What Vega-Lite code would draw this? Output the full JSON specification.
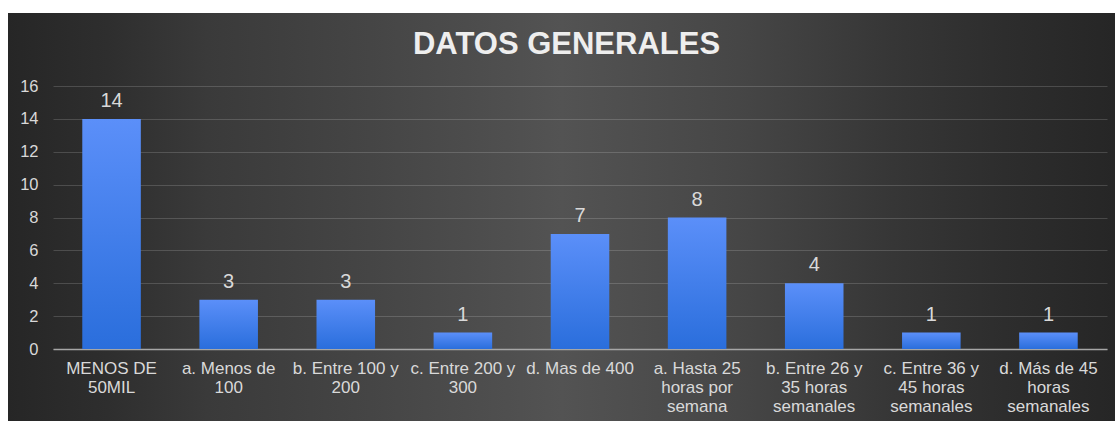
{
  "$schema": "https://vega.github.io/schema/vega-lite/v6.json",
  "width": 1107,
  "height": 408,
  "autosize": {"type": "none"},
  "padding": {"left": 8, "top": 13, "right": 0, "bottom": 0},
  "background": "#ffffff",
  "title": {
    "text": "DATOS GENERALES",
    "anchor": "middle",
    "frame": "group",
    "orient": "top",
    "offset": -48,
    "dx": 5,
    "font": "Liberation Sans",
    "fontSize": 31,
    "fontWeight": "bold",
    "color": "#eeeeee"
  },
  "view": {
    "stroke": null,
    "fill": {
      "gradient": "linear",
      "x1": 0, "y1": 0, "x2": 1, "y2": 0,
      "stops": [
        {"offset": 0, "color": "#262626"},
        {"offset": 0.09, "color": "#2e2e2e"},
        {"offset": 0.18, "color": "#3a3a3a"},
        {"offset": 0.34, "color": "#464646"},
        {"offset": 0.5, "color": "#535353"},
        {"offset": 0.66, "color": "#464646"},
        {"offset": 0.8, "color": "#363636"},
        {"offset": 0.9, "color": "#2d2d2d"},
        {"offset": 1, "color": "#262626"}
      ]
    }
  },
  "data": {
    "values": [
      {"cat": "MENOS DE|50MIL", "v": 14},
      {"cat": "a. Menos de|100", "v": 3},
      {"cat": "b. Entre 100 y|200", "v": 3},
      {"cat": "c. Entre 200 y|300", "v": 1},
      {"cat": "d. Mas de 400", "v": 7},
      {"cat": "a. Hasta 25|horas por|semana", "v": 8},
      {"cat": "b. Entre 26 y|35 horas|semanales", "v": 4},
      {"cat": "c. Entre 36 y|45 horas|semanales", "v": 1},
      {"cat": "d. Más de 45|horas|semanales", "v": 1}
    ]
  },
  "encoding": {
    "x": {
      "field": "cat",
      "type": "nominal",
      "sort": null,
      "scale": {"range": [45, 1099], "paddingInner": 0.5, "paddingOuter": 0.25},
      "axis": {
        "orient": "bottom",
        "offset": -72,
        "title": null,
        "labelExpr": "split(datum.label, '|')",
        "labelAngle": 0,
        "labelPadding": 11,
        "labelLineHeight": 19,
        "labelFont": "Liberation Sans",
        "labelFontSize": 17,
        "labelColor": "#d9d9d9",
        "labelLimit": 300,
        "ticks": false,
        "grid": false,
        "domainColor": "#a6a6a6",
        "domainWidth": 1.5
      }
    },
    "y": {
      "field": "v",
      "type": "quantitative",
      "scale": {"domain": [0, 16], "range": [336, 73], "nice": false},
      "axis": {
        "title": null,
        "offset": -45,
        "values": [0, 2, 4, 6, 8, 10, 12, 14, 16],
        "labelPadding": 15,
        "labelFont": "Liberation Sans",
        "labelFontSize": 16.5,
        "labelColor": "#d9d9d9",
        "ticks": false,
        "domain": false,
        "grid": true,
        "gridColor": "#ffffff",
        "gridOpacity": 0.16,
        "gridWidth": 1.2
      }
    }
  },
  "layer": [
    {
      "mark": {
        "type": "bar",
        "color": {
          "gradient": "linear",
          "x1": 0, "y1": 0, "x2": 0, "y2": 1,
          "stops": [
            {"offset": 0, "color": "#5b8ff9"},
            {"offset": 1, "color": "#2a6edc"}
          ]
        }
      }
    },
    {
      "mark": {
        "type": "text",
        "baseline": "alphabetic",
        "dy": -12,
        "font": "Liberation Sans",
        "fontSize": 20,
        "color": "#d9d9d9"
      },
      "encoding": {"text": {"field": "v", "type": "quantitative"}}
    }
  ]
}
